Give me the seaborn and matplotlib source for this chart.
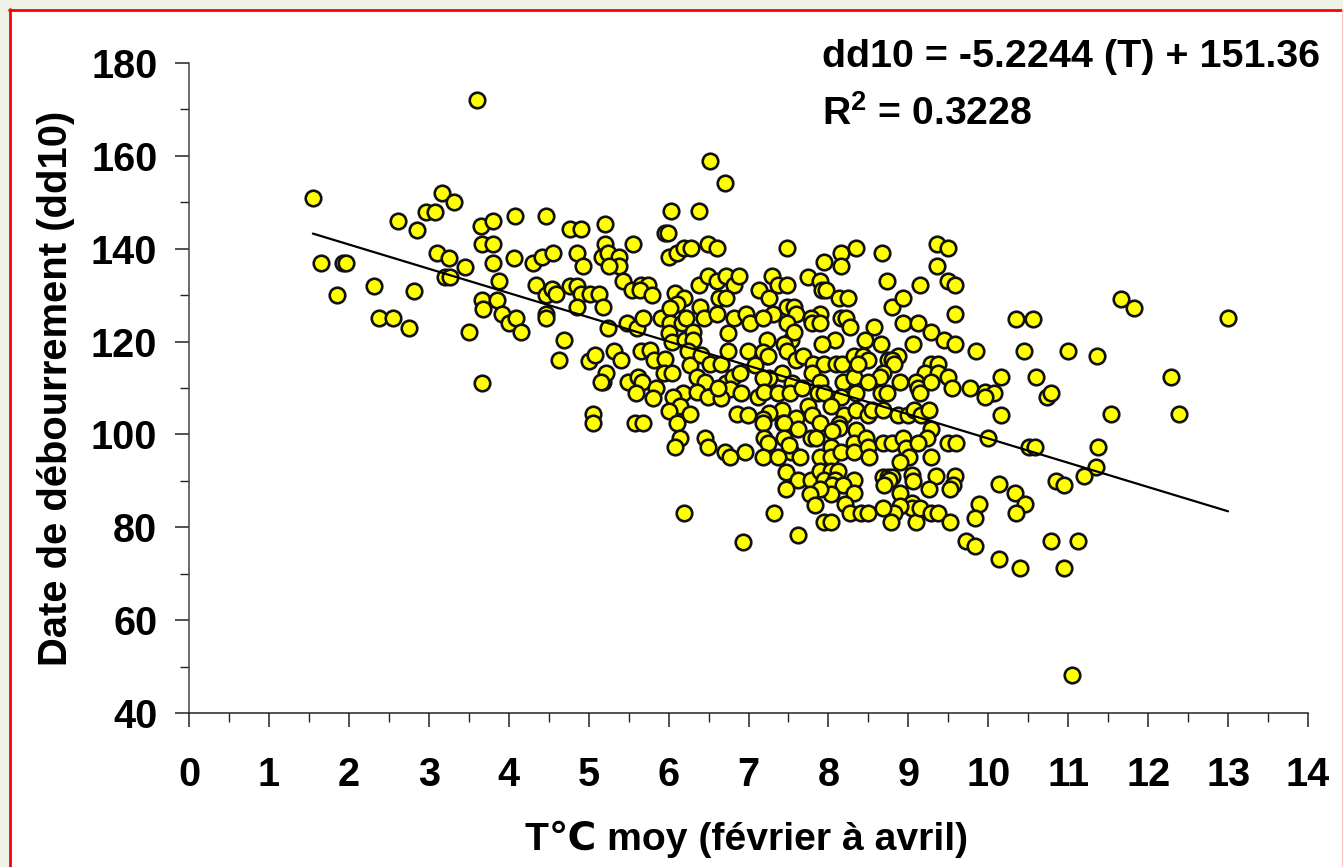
import matplotlib
matplotlib.use("Agg")
import matplotlib.pyplot as plt
from matplotlib.lines import Line2D
from matplotlib.patches import Rectangle
from matplotlib.ticker import MultipleLocator
import numpy as np
import pandas as pd
import seaborn as sns

# Values, by temperature band
temp_a = [1.55,1.65,1.93,1.96,1.85,2.32,2.38,2.55,2.62,2.75,
          2.85,2.82,2.97,3.1,3.08,3.17,3.2,3.25,3.27,3.32,
          3.45,3.5,3.6,3.65,3.67,3.67,3.68,3.67,3.8,3.8,
          3.8,3.85,3.88,3.91,4.0,4.07,4.08,4.09,4.15,4.3]
dd10_a = [151,137,137,137,130,132,125,125,146,123,
          144,131,148,139,148,152,134,138,134,150,
          136,122,172,145,141,129,127,111,141,146,
          137,129,133,126,124,138,147,125,122,137]

temp_b = [4.34,4.42,4.47,4.47,4.47,4.47,4.54,4.59,4.56,4.63,
          4.69,4.77,4.85,4.77,4.91,4.86,4.93,4.91,5.02,5.13,
          4.86,5.18,5.01,5.08,5.05,5.05,5.18,5.215,5.21,5.21,
          5.17,5.24,5.38,5.38,5.26,5.24,5.315,5.4,5.43,5.48,
          5.49,5.15]
dd10_b = [132.2,138.3,147,130,126,125,131.3,130.2,139.1,116,
          120.3,132,132,144.3,144.3,139.1,136.3,130.2,130.2,130.2,
          127.4,127.4,115.9,117.1,104.3,102.4,111.2,113.2,145.3,141,
          138.3,139.1,138.3,136.3,136.3,123,118,116,133,124,
          111.2,111.2]

temp_c = [5.56,5.54,5.65,5.74,5.64,5.79,5.6,5.68,5.9,5.62,
          5.67,5.59,5.65,5.765,5.815,5.95,5.94,6.04,5.84,5.81,
          5.58,5.68,5.96,5.99,6.03,6.38,6.0,6.1,6.19,6.28,
          6.08,6.19,6.1,6.02,6.02,6.0,6.04,6.17,6.22,6.2,
          6.31,6.30,6.24,6.27,6.18,6.05,6.14,6.0,6.27,6.11,
          6.14,6.08,6.19]
dd10_c = [141,131.1,132.2,132.2,131.1,130,122.9,125,125,112.3,
          111.2,108.9,118,118.2,116,116.2,113.2,113.2,110,107.9,
          102.5,102.5,143.3,143.3,148.1,148.1,138.3,139,140.1,140.1,
          130.4,129.3,128.1,127.2,124,121.9,120,124,125,120.3,
          122.1,120.3,118,115,109,108.1,106.2,105.1,104.3,102.4,
          99.2,97.2,83]

temp_d = [6.52,6.71,6.49,6.6,6.38,6.49,6.61,6.715,6.82,6.88,
          6.63,6.72,6.39,6.44,6.61,6.82,6.965,7.015,6.74,6.41,
          6.52,6.66,6.74,6.99,6.36,6.45,6.72,6.81,6.89,6.765,
          6.91,6.35,6.49,6.66,6.62,6.86,6.99,6.46,6.49,6.71,
          6.77,6.96,6.93]
dd10_d = [158.9,154.2,141,140.1,132.2,134.2,133,134.2,132.2,134.2,
          129.3,129.3,127.5,125,126,125,126,124,121.9,117.1,
          115.1,115.1,118,118,112.3,111.2,111,112.3,113.2,109.7,
          108.9,109.2,108.1,107.9,109.9,104.3,104.2,99.2,97.2,96.3,
          95.1,96.3,76.9]

temp_e = [7.48,7.13,7.26,7.29,7.37,7.48,7.48,7.57,7.31,7.6,
          7.18,7.48,7.23,7.53,7.575,7.45,7.48,7.23,7.59,7.18,
          7.08,7.24,7.42,7.54,7.26,7.18,7.12,7.19,7.37,7.515,
          7.42,7.26,7.18,7.43,7.6,7.18,7.45,7.62,7.2,7.24,
          7.45,7.53,7.51,7.18,7.37,7.64,7.47,7.62,7.47,7.32,
          7.62]
dd10_e = [140.1,131.1,129.3,134.2,132.2,132.2,127.4,127.4,125.9,125.9,
          125,124.1,120.3,120.3,122.1,119.5,118,117,116,117.8,
          115,116.9,113.2,111,112.1,112.1,108.1,109.2,108.9,108.9,
          105.3,104.6,103.3,102.4,103.5,102.4,102.4,101.1,99.2,98.1,
          99.2,96.3,97.7,95.2,95.2,95.2,92,90.2,88.2,83,
          78.3]

temp_f = [7.68,7.81,7.95,8.1,8.17,7.75,7.9,7.92,7.97,7.94,
          8.16,8.16,8.35,8.13,8.24,7.89,7.78,7.8,7.89,8.16,
          8.22,8.27,8.08,7.92,8.325,7.8,7.67,7.89,8.18,8.325,
          7.87,7.95,8.16,8.35,7.75,8.03,7.8,8.19,7.89,8.13,
          8.13,8.05,8.35,8.35,7.78,7.85,7.89,8.03,8.03,8.16,
          8.325,8.325,7.78,7.9,8.03,8.12,7.95,8.08,8.05,8.325,
          8.18,8.03,7.89,7.77,7.83,8.325,8.21,8.27,7.94,8.03]
dd10_f = [117,115.1,115.1,115.1,115.1,134,133.1,131.1,131.1,137.2,
          139.1,136.3,140.1,129.3,129.3,125.9,125,124.1,124.1,125,
          125,123.1,120.3,119.5,117,113.2,110,111.4,111.4,112.3,
          109,109,108.1,109,106.2,106.2,104.2,104.2,102.4,102.3,
          101.3,100.8,105.3,101,99.2,99.2,95.2,97.2,95.2,96.3,
          98.1,96.3,90.2,92.2,92.2,92.2,90.2,90.2,89.1,90.2,
          89.1,87.2,88.2,87.2,84.8,87.3,85,83,81.1,81.1]

temp_g = [8.41,8.49,8.46,8.575,8.66,8.67,8.73,8.79,8.93,8.93,
          8.43,8.49,8.375,8.875,8.74,8.79,8.825,8.68,8.65,8.49,
          8.9,8.66,8.73,8.49,8.55,8.68,8.87,9.0,8.47,8.49,
          8.51,8.68,8.8,8.93,8.97,9.01,8.9,8.68,8.74,8.8,
          8.76,8.7,9.05,9.06,8.9,9.05,9.05,8.89,8.82,8.78,
          8.68,9.09]
dd10_g = [83,83,120.3,123.1,119.5,139.1,133,127.4,129.3,124.1,
          117,116,115.1,117,116,116,115.1,113.2,112.4,111.4,
          111.4,109,109,104.2,105.3,105.3,104.2,104.2,99.2,97.2,
          95.2,98.1,98.1,99.2,97,95.2,94.1,90.9,90.9,90.9,
          90.2,89.1,91.3,90,87.3,85.2,84.1,84.5,83,81.1,
          84.1,81.1]

temp_h = [9.15,9.49,9.58,9.36,9.5,9.36,9.58,9.125,9.28,9.45,
          9.58,9.06,9.85,9.28,9.375,9.21,9.37,9.5,9.1,9.12,
          9.15,9.28,9.55,9.77,9.96,10.07,9.96,10.16,10.6,10.74,
          10.78,9.07,9.16,9.255,10.16,9.28,9.23,9.12,9.5,9.6,
          10.0,10.51,10.58,9.28,9.34,9.58,9.555,9.525,9.255,9.15,
          9.28,9.37,9.525,9.88,9.83,10.13,10.33,10.46,10.35,9.72,
          9.83,10.79,10.35,10.56,10.45,11.0,11.36,11.66,11.82,13.0,
          12.29,12.38,11.53,11.37,11.35,11.2,10.85,10.95,11.12,10.95,
          10.4,10.13,11.05]
dd10_h = [132.2,133,132.2,141,140.1,136.3,125.9,124.1,122.1,120.3,
          119.5,119.5,118,115.1,115.1,113.2,113.2,112.4,111.2,110.1,
          109,111.2,110,110,109.2,109,108,112.3,112.3,108,
          109,105.3,104.2,105.3,104.2,101.1,99.2,98.1,98.1,98.1,
          99.2,97.2,97.2,95.2,91,91,89.1,88.2,88.2,84.1,
          83,83,81.1,85,82.1,89.3,87.3,85,83,77,
          76,77,124.9,124.9,118,118,117,129.2,127.3,125,
          112.3,104.3,104.3,97.2,93,91,90,89.2,77,71.3,
          71.3,73.2,48.2]

fit_temp = [1.55, 13.0]
slope, intercept = -5.2244, 151.36
x_ticks = list(range(0, 15))
y_ticks = list(range(40, 181, 20))

temp = temp_a + temp_b + temp_c + temp_d + temp_e + temp_f + temp_g + temp_h
dd10 = dd10_a + dd10_b + dd10_c + dd10_d + dd10_e + dd10_f + dd10_g + dd10_h
points = pd.DataFrame({"temp": temp, "dd10": dd10})
fit = pd.DataFrame({"temp": fit_temp, "dd10": [slope * t + intercept for t in fit_temp]})

W, H = 1343, 867
sns.set_theme(style="white")
plt.rcParams["font.family"] = ["Liberation Sans", "DejaVu Sans"]
plt.rcParams["mathtext.fontset"] = "custom"
plt.rcParams["mathtext.bf"] = "Liberation Sans:bold"
plt.rcParams["mathtext.rm"] = "Liberation Sans:bold"

fig = plt.figure(figsize=(W / 100, H / 100), dpi=100, facecolor="#eff2e6")
panel = Rectangle((9 / W, 0), (1342 - 9) / W, 1 - 9 / H, transform=fig.transFigure,
                  facecolor="white", edgecolor="none", zorder=-5)
fig.add_artist(panel)
fig.add_artist(Line2D([9.5 / W, 9.5 / W], [0, 1 - 9 / H], color="#ff0000", lw=2.0))
fig.add_artist(Line2D([9 / W, 1342 / W], [1 - 9.5 / H, 1 - 9.5 / H], color="#ff0000", lw=2.0))
fig.add_artist(Line2D([1342 / W, 1342 / W], [0, 1 - 9 / H], color="#ffc4c4", lw=0.8))

ax = fig.add_axes([189 / W, (H - 713) / H, (1308 - 189) / W, 650 / H])
ax.patch.set_alpha(0)
sns.scatterplot(data=points, x="temp", y="dd10", s=125, color="#ffff00",
                edgecolor="#111111", linewidth=1.9, ax=ax, zorder=3, clip_on=False)
sns.lineplot(data=fit, x="temp", y="dd10", color="black", lw=1.6, ax=ax, zorder=4)

ax.set_xlim(0, 14)
ax.set_ylim(40, 180)
ax.set_xticks(x_ticks)
ax.set_yticks(y_ticks)
ax.xaxis.set_minor_locator(MultipleLocator(0.5))
ax.yaxis.set_minor_locator(MultipleLocator(10))
sns.despine(ax=ax)
ax.spines["left"].set_color("#444444")
ax.spines["bottom"].set_color("#222222")
ax.spines["left"].set_linewidth(1.1)
ax.spines["bottom"].set_linewidth(1.1)
ax.tick_params(axis="both", which="major", direction="out", length=9.8, width=1.1,
               color="#222222", left=True, bottom=True)
ax.tick_params(axis="both", which="minor", direction="out", length=6.5, width=1.0,
               color="#222222", left=True, bottom=True)
ax.tick_params(axis="x", which="major", pad=21)
ax.tick_params(axis="y", which="major", pad=13)
for lab in ax.get_xticklabels() + ax.get_yticklabels():
    lab.set_fontsize(28.5)
    lab.set_fontweight("bold")
    lab.set_color("black")

ax.set_xlabel("T\u2103 moy (février à avril)", fontsize=28.2, fontweight="bold", color="black", va="center")
ax.set_ylabel("Date de débourrement (dd10)", fontsize=28.8, fontweight="bold", color="black", va="center")
ax.xaxis.set_label_coords(0.498, -0.194)
ax.yaxis.set_label_coords(-0.1185, 0.5)

fig.text(822 / W, 1 - 67 / H, "dd10 = -5.2244 (T) + 151.36", fontsize=28.4, fontweight="bold",
         ha="left", va="baseline", color="black")
fig.text(822 / W, 1 - 125 / H, r"R$^{\mathbf{2}}$ = 0.3228", fontsize=28.2, fontweight="bold",
         ha="left", va="baseline", color="black")

fig.savefig("out.png", dpi=100, facecolor=fig.get_facecolor())
